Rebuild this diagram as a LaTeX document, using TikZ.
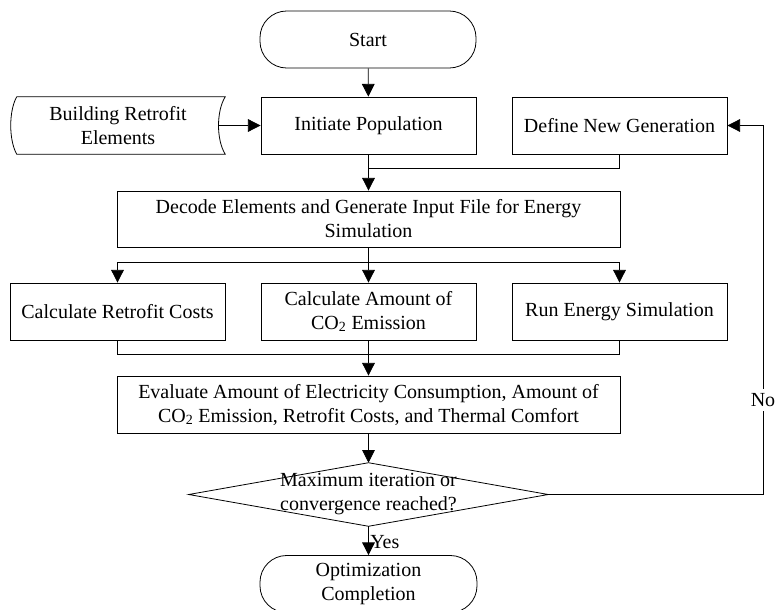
\documentclass[tikz,border=0pt]{standalone}
\usepackage{fontspec}
\setmainfont{Liberation Serif}
\usetikzlibrary{arrows.meta}
\begin{document}
\begin{tikzpicture}[x=0.75pt,y=-0.75pt,
  every node/.style={font=\fontsize{15}{18}\selectfont, align=center, inner sep=0pt},
  procbox/.style={draw, line width=0.6pt, minimum width={215*0.75pt}, minimum height={57*0.75pt}},
  widebox/.style={draw, line width=0.6pt, minimum width={503*0.75pt}, minimum height={56*0.75pt}},
  termbox/.style={draw, line width=0.6pt, rounded corners=20pt, minimum width={216*0.75pt}, minimum height={57*0.75pt}},
  plainbox/.style={minimum width={214*0.75pt}, minimum height={57*0.75pt}},
  conn/.style={line width=0.6pt},
  arr/.style={conn, -{Triangle[length=9.5pt,width=9.5pt]}}
]
\useasboundingbox (0,0) rectangle (775,610);

% nodes
\node[termbox] (start) at (368,39.5) {Start};
\node[procbox] (init) at (368.5,125.5) {Initiate Population};
\node[plainbox] (bre) at (118,125.5) {Building Retrofit\\Elements};
\node[procbox] (defgen) at (619.5,125.5) {Define New Generation};
\node[widebox] (decode) at (368.5,219) {Decode Elements and Generate Input File for Energy\\Simulation};
\node[procbox] (crc) at (117.5,311.5) {Calculate Retrofit Costs};
\node[procbox] (co2) at (368.5,311.5) {Calculate Amount of\\CO\textsubscript{2} Emission};
\node[procbox] (run) at (619.5,311.5) {Run Energy Simulation};
\node[widebox, minimum height={57*0.75pt}] (eval) at (368.5,404.5) {Evaluate Amount of Electricity Consumption, Amount of\\CO\textsubscript{2} Emission, Retrofit Costs, and Thermal Comfort};
\node[minimum width={359*0.75pt}, minimum height={63*0.75pt}] (dia) at (368.5,494.5) {};
\node[termbox, minimum width={217*0.75pt}] (opt) at (368.5,584) {Optimization\\Completion};

% stored data shape
\draw[conn] ([xshift={6*0.75pt}]bre.north west) -- (bre.north east)
  .. controls ([xshift={-9*0.75pt}]bre.north east |- 0,111) and ([xshift={-9*0.75pt}]bre.south east |- 0,140) .. (bre.south east)
  -- ([xshift={6*0.75pt}]bre.south west)
  .. controls ([xshift={-2*0.75pt}]bre.south west |- 0,140) and ([xshift={-2*0.75pt}]bre.north west |- 0,111) .. ([xshift={6*0.75pt}]bre.north west);
\coordinate (breout) at ([xshift={-7*0.75pt}]bre.east);

% diamond
\draw[conn] (dia.north) -- (dia.east) -- (dia.south) -- (dia.west) -- cycle;
\node at (dia.center) {Maximum iteration or\\convergence reached?};

% junctions
\coordinate (j1) at (368.5,168);
\coordinate (j2) at (368.5,262);
\coordinate (j3) at (368.5,354);
\coordinate (fb) at (763,125.5);

% connectors
\draw[arr] (start) -- (init);
\draw[arr] (breout) -- (init.west);
\draw[arr] (init) -- (decode);
\draw[conn] (defgen.south) |- (j1);
\draw[arr] (decode) -- (co2);
\draw[arr] (j2) -| (crc.north);
\draw[arr] (j2) -| (run.north);
\draw[conn] (crc.south) |- (j3);
\draw[conn] (run.south) |- (j3);
\draw[arr] (co2) -- (eval);
\draw[arr] (eval) -- (dia.north);
\draw[arr] (dia.east) -| (fb) -- (defgen.east);
\node[fill=white, inner ysep=3pt] (no) at (763,400) {No};
\draw[arr] (dia.south) -- (opt.north);
\node[anchor=west] (yes) at (370,542) {Yes};
\end{tikzpicture}
\end{document}
